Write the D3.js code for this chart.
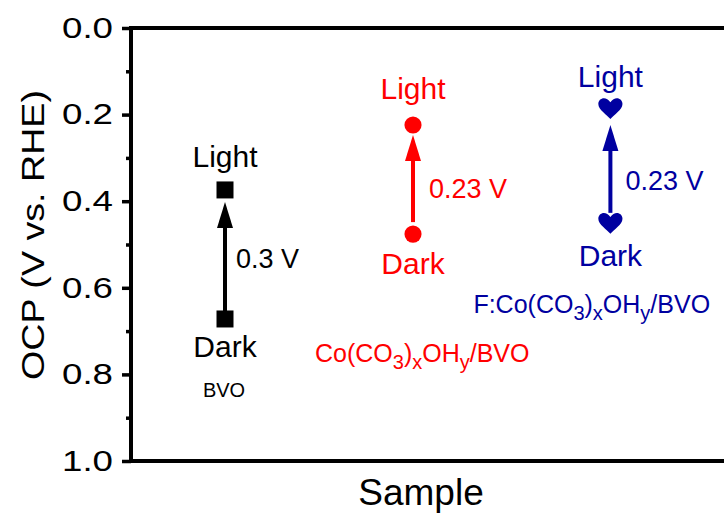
<!DOCTYPE html>
<html>
<head>
<meta charset="utf-8">
<script src="https://cdn.jsdelivr.net/npm/d3@7"></script>
<style>
  body { margin: 0; background: #fff; }
  svg { display: block; font-family: "Liberation Sans", Arial, sans-serif; }
</style>
</head>
<body>
<svg id="chart" width="724" height="517"></svg>
<script>
// sample data
var samples = ['BVO', 'Co(CO3)xOHy/BVO', 'F:Co(CO3)xOHy/BVO'];
var sampleX = [1, 2, 3.05];
var darkOCP = [0.672, 0.476, 0.450];
var lightOCP = [0.374, 0.224, 0.185];
var shiftLabels = ['0.3 V', '0.23 V', '0.23 V'];
var colors = ['#000000', '#ff0000', '#0000a0'];
var markers = ['square', 'circle', 'heart'];
var yTicks = [0, 0.2, 0.4, 0.6, 0.8, 1.0];
var yMinorTicks = [0.1, 0.3, 0.5, 0.7, 0.9];

var FONT = '"Liberation Sans", Arial, sans-serif';
var svg = d3.select('#chart');
var W = 724;

var x = d3.scaleLinear().domain([0.5, 3.5]).range([131, 695]);
var y = d3.scaleLinear().domain([0, 1]).range([28, 461]);

// custom heart symbol for d3.symbol
var symbolHeart = {
  draw : function(ctx, size) {
    var s = Math.sqrt(size) / 2;
    ctx.moveTo(0, 0.95 * s);
    ctx.bezierCurveTo(-0.3 * s, 0.6 * s, -1.05 * s, 0.15 * s, -1.05 * s, -0.35 * s);
    ctx.bezierCurveTo(-1.05 * s, -0.85 * s, -0.4 * s, -1.1 * s, 0, -0.5 * s);
    ctx.bezierCurveTo(0.4 * s, -1.1 * s, 1.05 * s, -0.85 * s, 1.05 * s, -0.35 * s);
    ctx.bezierCurveTo(1.05 * s, 0.15 * s, 0.3 * s, 0.6 * s, 0, 0.95 * s);
    ctx.closePath();
  }
};
var symbolTypes = { square : d3.symbolSquare, circle : d3.symbolCircle, heart : symbolHeart };
var symbolSizes = { square : 17 * 17, circle : 230, heart : 23 * 23 };
var tipGap = [12, 10, 17];
var tailGap = [6, 12, 10];

// axes
var yAxis = d3.axisLeft(y).tickValues(yTicks).tickSize(9).tickSizeOuter(0)
  .tickPadding(9).tickFormat(d3.format('.1f'));
var gy = svg.append('g').attr('transform', 'translate(131,0)').call(yAxis)
  .attr('font-family', FONT);
gy.select('.domain').attr('stroke-width', 4).attr('d', 'M0,' + (y(0) - 2) + 'V' + (y(1) + 2));
gy.selectAll('.tick line').attr('stroke-width', 3.5);
gy.selectAll('.tick text')
  .attr('fill', '#000')
  .style('font-size', '29px')
  .attr('textLength', 51)
  .attr('lengthAdjust', 'spacingAndGlyphs');

var gyMinor = svg.append('g').attr('transform', 'translate(131,0)')
  .call(d3.axisLeft(y).tickValues(yMinorTicks).tickSize(5).tickSizeOuter(0).tickFormat(''));
gyMinor.select('.domain').remove();
gyMinor.selectAll('.tick line').attr('stroke-width', 3.5);

// top and bottom frame lines
[0, 1].forEach(function(v) {
  svg.append('line')
    .attr('x1', 129).attr('x2', W + 10)
    .attr('y1', y(v)).attr('y2', y(v))
    .attr('stroke', '#000').attr('stroke-width', 4);
});

// axis titles
svg.append('text')
  .attr('transform', 'translate(44,' + 235 + ') rotate(-90)')
  .attr('text-anchor', 'middle')
  .attr('textLength', 290)
  .attr('lengthAdjust', 'spacingAndGlyphs')
  .style('font-size', '32px')
  .text('OCP (V vs. RHE)');

svg.append('text')
  .attr('x', 421).attr('y', 505)
  .attr('text-anchor', 'middle')
  .style('font-size', '37px')
  .text('Sample');

// arrows, markers and labels for every sample
var lightDy = [-23, -26, -21];
var darkDy = [38, 40, 43];
var shiftPos = [[11, 268], [16, 198], [15, 190]];

samples.forEach(function(name, i) {
  var cx = x(sampleX[i]);
  var yl = y(lightOCP[i]);
  var yd = y(darkOCP[i]);
  var g = svg.append('g').attr('fill', colors[i]);

  var tip = yl + tipGap[i];
  var headLen = 26;
  g.append('line')
    .attr('x1', cx).attr('x2', cx)
    .attr('y1', yd - tailGap[i]).attr('y2', tip + headLen - 2)
    .attr('stroke', colors[i]).attr('stroke-width', 4);
  g.append('path')
    .attr('d', 'M' + cx + ',' + tip + 'L' + (cx - 8) + ',' + (tip + headLen) + 'L' + (cx + 8) + ',' + (tip + headLen) + 'Z');

  var sym = d3.symbol().type(symbolTypes[markers[i]]).size(symbolSizes[markers[i]]);
  [yl, yd].forEach(function(cy) {
    g.append('path').attr('transform', 'translate(' + cx + ',' + cy + ')').attr('d', sym());
  });

  g.append('text').attr('x', cx).attr('y', yl + lightDy[i])
    .attr('text-anchor', 'middle').style('font-size', '30px').text('Light');
  g.append('text').attr('x', cx).attr('y', yd + darkDy[i])
    .attr('text-anchor', 'middle').style('font-size', '30px').text('Dark');
  g.append('text').attr('x', cx + shiftPos[i][0]).attr('y', shiftPos[i][1])
    .style('font-size', '27px').text(shiftLabels[i]);
});

// sample names
svg.append('text')
  .attr('x', x(sampleX[0]) - 1).attr('y', 397)
  .attr('text-anchor', 'middle').style('font-size', '20px')
  .attr('fill', colors[0]).text(samples[0]);

function chemLabel(px, py, color, prefix) {
  var t = svg.append('text').attr('x', px).attr('y', py)
    .attr('fill', color).style('font-size', '25px');
  var parts = [[prefix + 'Co(CO', 0], ['3', 1], [')', 0], ['x', 1], ['OH', 0], ['y', 1], ['/BVO', 0]];
  var shift = 0;
  parts.forEach(function(p) {
    var want = p[1] ? 7 : 0;
    t.append('tspan')
      .attr('dy', want - shift)
      .style('font-size', p[1] ? '20px' : '25px')
      .text(p[0]);
    shift = want;
  });
}
chemLabel(x(sampleX[1]) - 98, 362, colors[1], '');
chemLabel(x(sampleX[2]) - 137, 313, colors[2], 'F:');
</script>
</body>
</html>
